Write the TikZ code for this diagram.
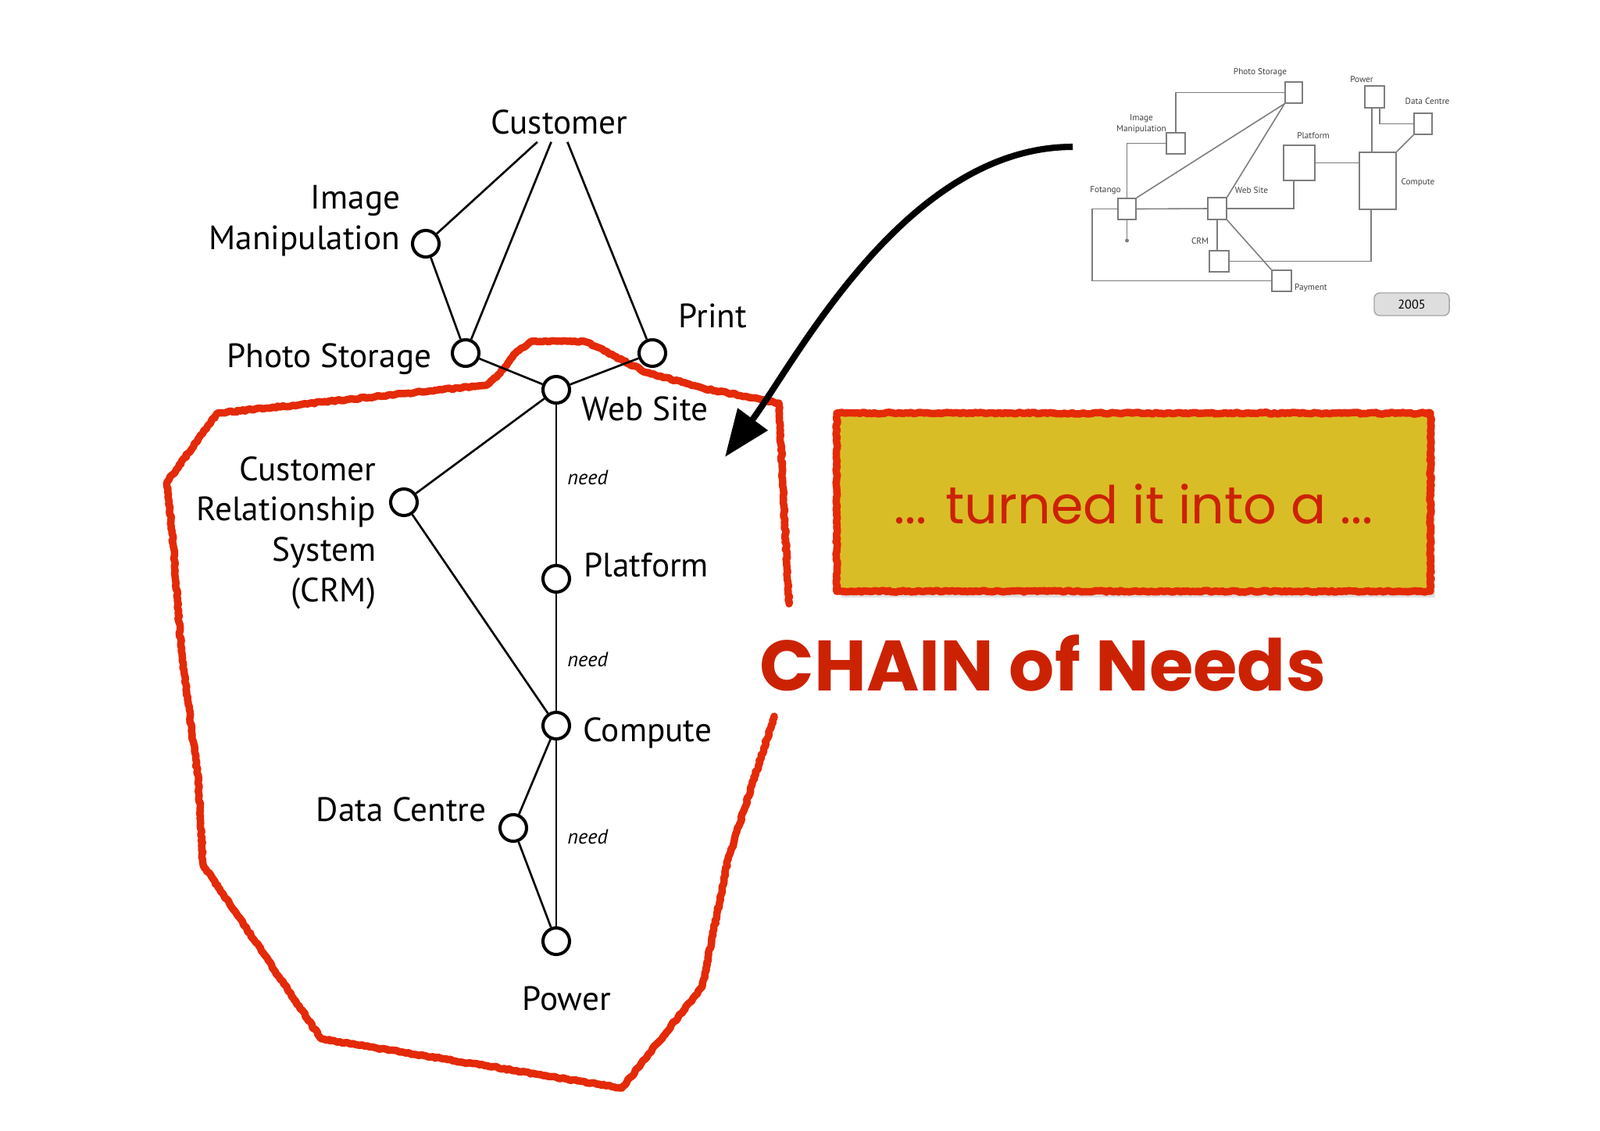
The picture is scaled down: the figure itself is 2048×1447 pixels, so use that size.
\documentclass[tikz,border=0pt]{standalone}
\usepackage{fontspec}
\setmainfont{PT Sans}
\newfontfamily\comicfont{Poppins}
\usetikzlibrary{arrows.meta,decorations.pathmorphing}
\definecolor{redline}{RGB}{228,42,8}
\definecolor{redtext}{RGB}{204,34,4}
\definecolor{boxyellow}{RGB}{217,189,38}
\definecolor{minigray}{RGB}{125,125,125}
\begin{document}
\begin{tikzpicture}[x=0.01cm,y=-0.01cm,
 dot/.style={circle,draw=black,line width=1.15pt,minimum size=0.34cm,inner sep=0pt,fill=white},
 edge/.style={draw=black,line width=0.75pt},
 lbl/.style={font=\fontsize{12.3}{14.7}\selectfont,inner sep=0pt},
 needlbl/.style={font=\fontsize{7.5}{9}\selectfont\itshape,inner sep=0pt,anchor=west,xshift=0.13cm},
 rough/.style={draw=redline,line width=2.7pt,line join=round,line cap=round,decorate,decoration={random steps,segment length=0.9pt,amplitude=0.3pt}},
 mini/.style={draw=minigray,line width=0.45pt,fill=white,inner sep=0pt},
 minitxt/.style={font=\fontsize{3.2}{4}\selectfont,text=black!75,inner sep=0pt},
 miniline/.style={draw=minigray,line width=0.45pt},
]
\useasboundingbox (0,0) rectangle (2048,1447);
\fill[white] (0,0) rectangle (2048,1447);

% ---------- red hand-drawn outline ----------
\draw[rough] (1010,773) -- (1003,640) -- (997,516) -- (900,497) -- (828,477) -- (761,443) -- (748,437)
  -- (680,437) -- (660,452) -- (640,478) -- (623,493) -- (278,529) -- (214,617) -- (222,700)
  -- (232,833) -- (254,1000) -- (260,1107) -- (411,1330) -- (796,1393) -- (899,1263)
  -- (932,1100) -- (991,917);

% ---------- main graph ----------
\node[lbl,minimum height=0.5cm] (cust) at (716,156) {Customer};
\node[dot] (im) at (545,312) {};
\node[dot] (ps) at (596,452) {};
\node[dot] (pr) at (835,452) {};
\node[dot] (ws) at (712,499) {};
\node[dot] (crm) at (517,643) {};
\node[dot] (pf) at (712,741) {};
\node[dot] (cp) at (712,929) {};
\node[dot] (dc) at (657,1060) {};
\node[dot] (pw) at (712,1205) {};

\draw[edge] (cust) -- (im);
\draw[edge] (cust) -- (ps);
\draw[edge] (cust) -- (pr);
\draw[edge] (im) -- (ps);
\draw[edge] (ps) -- (ws);
\draw[edge] (pr) -- (ws);
\draw[edge] (ws) -- (crm);
\draw[edge] (ws) -- node[needlbl,pos=0.46] (n1) {need} (pf);
\draw[edge] (crm) -- (cp);
\draw[edge] (pf) -- node[needlbl,pos=0.56] (n2) {need} (cp);
\draw[edge] (cp) -- (dc);
\draw[edge] (dc) -- (pw);
\draw[edge] (cp) -- node[needlbl,pos=0.52] (n3) {need} (pw);

\node[lbl,anchor=east,align=right] (limg) at (513,283) {Image\\Manipulation};
\node[lbl,anchor=base east] (lps) at (553,470) {Photo Storage};
\node[lbl,anchor=base west] (lpr) at (868,419) {Print};
\node[lbl,anchor=base west] (lws) at (744,538) {Web Site};
\node[lbl,anchor=east,align=right] (lcrm) at (482,682) {Customer\\Relationship\\System\\(CRM)};
\node[lbl,anchor=base west] (lpf) at (747,738) {Platform};
\node[lbl,anchor=base west] (lcp) at (746,949) {Compute};
\node[lbl,anchor=base east] (ldc) at (623,1051) {Data Centre};
\node[lbl,anchor=base] (lpw) at (725,1293) {Power};

% ---------- curved arrow ----------
\coordinate (astart) at (1373,188);
\coordinate (aend) at (928,585);
\draw[line width=2.3pt,-{Triangle[length=0.6cm,width=0.46cm]}] (astart) .. controls (1160,188) and (1020,460) .. (aend);

% ---------- yellow box ----------
\fill[black!12] (1077,536) rectangle (1837,765);
\draw[rough,fill=boxyellow] (1071,529) rectangle (1831,757);
\node[font=\comicfont\fontsize{19}{22}\selectfont,text=redtext] (turned) at (1451,645) {... turned it into a ...};
\node[font=\comicfont\bfseries\fontsize{26}{31}\selectfont,text=redtext] (chain) at (1335,849) {CHAIN of Needs};

% ---------- mini diagram ----------
\node[mini,minimum width=0.22cm,minimum height=0.27cm] (mps) at (1656,118.5) {};
\node[mini,minimum width=0.24cm,minimum height=0.27cm] (mim) at (1505,183.5) {};
\node[mini,minimum width=0.23cm,minimum height=0.27cm] (mfo) at (1442.5,267.5) {};
\node[mini,minimum width=0.24cm,minimum height=0.28cm] (mws) at (1558,267) {};
\node[mini,minimum width=0.40cm,minimum height=0.45cm] (mpf) at (1663,208.5) {};
\node[mini,minimum width=0.47cm,minimum height=0.73cm] (mcp) at (1763.5,231.5) {};
\node[mini,minimum width=0.25cm,minimum height=0.28cm] (mpw) at (1759.5,124) {};
\node[mini,minimum width=0.23cm,minimum height=0.27cm] (mdc) at (1821.5,158.5) {};
\node[mini,minimum width=0.25cm,minimum height=0.27cm] (mcrm) at (1560.5,334.5) {};
\node[mini,minimum width=0.25cm,minimum height=0.27cm] (mpay) at (1640.5,359.5) {};
\coordinate (mfoL) at (1398,267.5);
\coordinate (mfodot) at (1442.5,308);

\draw[miniline] (mim.north) |- (mps.west);
\draw[miniline] (mim.west) -| (mfo.north);
\draw[miniline] (mfo.north east) -- (mps.south west);
\draw[miniline] (mws.north east) -- (mps.south west);
\draw[miniline] (mfo.east) -- (mws.west);
\draw[miniline] (mfo.west) -- (mfoL) |- (mpay.west);
\draw[miniline] (mfo.south) -- (mfodot);
\fill[minigray] (mfodot) circle[radius=0.7pt];
\draw[miniline] (mws.east) -| ([xshift=-0.07cm]mpf.south);
\draw[miniline] (mpf.east) -- (mpf.east -| mcp.west);
\draw[miniline] (mws.south) -- (mws.south |- mcrm.north);
\draw[miniline] (mws.south east) -- (mpay.north west);
\draw[miniline] (mcrm.east) -| ([xshift=-0.085cm]mcp.south);
\draw[miniline] ([xshift=-0.035cm]mpw.south) -- ([xshift=-0.035cm]mpw.south |- mcp.north);
\draw[miniline] ([xshift=0.065cm]mpw.south) |- (mdc.west);
\draw[miniline] (mdc.south west) -- (mcp.north east);

\node[minitxt] (tps) at (1613,93) {Photo Storage};
\node[minitxt,align=center] (tim) at (1461,159) {Image\\Manipulation};
\node[minitxt] (tfo) at (1415,244) {Fotango};
\node[minitxt] (tws) at (1602,244) {Web Site};
\node[minitxt] (tpf) at (1681,174) {Platform};
\node[minitxt] (tcp) at (1815,234) {Compute};
\node[minitxt] (tpw) at (1743,102) {Power};
\node[minitxt] (tdc) at (1827,130) {Data Centre};
\node[minitxt] (tcrm) at (1536,309) {CRM};
\node[minitxt] (tpay) at (1678,369) {Payment};
\node[rounded corners=2pt,draw=black!35,fill=black!13,minimum width=0.96cm,minimum height=0.29cm,inner sep=0pt,font=\fontsize{4.6}{5}\selectfont] (y2005) at (1807,389.5) {2005};
\end{tikzpicture}
\end{document}
